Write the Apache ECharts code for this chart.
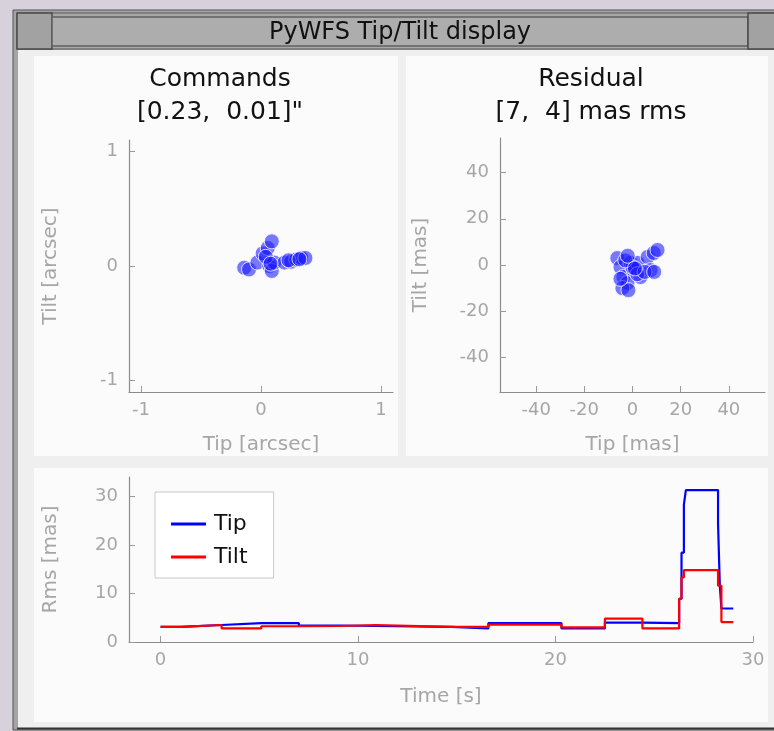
<!DOCTYPE html>
<html>
<head>
<meta charset="utf-8">
<script src="https://cdn.jsdelivr.net/npm/echarts@6/dist/echarts.min.js"></script>
<style>
html,body{margin:0;padding:0;background:#d6d1da;}
#chart{width:774px;height:731px;}
</style>
</head>
<body>
<div id="chart"></div>
<script>
// ---- Data ----
var windowTitle = 'PyWFS Tip/Tilt display';
var cmdTitle = 'Commands\n[0.23,  0.01]"';
var resTitle = 'Residual\n[7,  4] mas rms';

// Commands scatter (arcsec)
var cmdTip  = [-0.14, -0.10, -0.03, 0.014, 0.056, 0.09, 0.07, 0.09, 0.11, 0.196, 0.25, 0.294, 0.336, 0.37, 0.04, 0.08, 0.23, 0.32];
var cmdTilt = [-0.015, -0.03, 0.03, 0.11, 0.157, 0.215, 0.0, -0.043, 0.03, 0.03, 0.037, 0.057, 0.07, 0.07, 0.08, 0.02, 0.05, 0.06];

// Residual scatter (mas)
var resTip  = [-6.3, -5.0, -3.8, -2.1, -0.8, 0.4, 2.1, 3.3, 6.3, 8.8, 10.4, 7.5, -4.2, -1.7, 0.0, -3.0, 2.0, -5.0, 5.0, -2.0, 9.0, 1.0];
var resTilt = [3.0, -0.9, -5.2, -7.8, 0.9, -2.2, 0.9, -5.2, 3.5, 5.2, 6.5, -2.2, -10.0, -10.9, -1.0, 2.0, -4.0, -6.0, -3.0, 4.0, -3.0, -1.5];

// Rms time series (value holds from each time until the next)
var timeS   = [0, 1.03, 3.09, 5.1, 7.0, 9.1, 10.9, 14.7, 16.6, 20.3, 22.5, 24.4, 26.26, 26.38, 26.5, 26.6, 28.23, 28.32, 28.4, 29.0];
var tipRms  = [3.1, 3.5, 3.9, 3.9, 3.4, 3.3, 3.1, 2.8, 3.9, 2.8, 4.0, 3.9, 8.9, 18.4, 28.3, 31.3, 24.5, 11.6, 6.9, 6.9];
var tiltRms = [3.1, 3.5, 2.8, 3.25, 3.3, 3.5, 3.1, 3.1, 3.6, 3.0, 4.8, 2.8, 8.9, 13.3, 14.8, 14.8, 11.6, 11.6, 4.1, 4.1];

var cmdTicks = [-1, 0, 1];
var resTicks = [-40, -20, 0, 20, 40];
var timeTicks = [0, 10, 20, 30];
var rmsTicks = [0, 10, 20, 30];

// ---- Build ----
function pairs(a, b) { return a.map(function (v, i) { return [v, b[i]]; }); }
function stepPairs(t, v) {
  var out = [];
  for (var i = 0; i < t.length; i++) {
    if (i > 0) out.push([t[i], v[i - 1]]);
    out.push([t[i], v[i]]);
  }
  return out;
}

var FONT = 'DejaVu Sans';
var labelColor = '#a6a6a6';
var axisLineColor = '#8c8c8c';

function valAxis(gridIndex, min, max, ticks, name, gap, isY) {
  return {
    type: 'value', gridIndex: gridIndex, min: min, max: max,
    name: name, nameLocation: 'middle', nameGap: gap,
    nameTextStyle: { color: labelColor, fontSize: 20, fontFamily: FONT },
    axisLine: { show: true, onZero: false, lineStyle: { color: axisLineColor, width: 1.2 } },
    axisTick: { show: true, inside: true, length: 6, customValues: ticks, lineStyle: { color: '#9a9a9a' } },
    axisLabel: { color: labelColor, fontSize: 18, fontFamily: FONT, margin: isY ? 11 : 9, customValues: ticks },
    splitLine: { show: false }
  };
}

var scatterStyle = { color: 'rgba(25,25,255,0.72)', borderColor: '#ffffff', borderWidth: 1 };

var option = {
  animation: false,
  backgroundColor: '#d6d1da',
  graphic: [
    { type: 'rect', z: -10, shape: { x: 13, y: 10, width: 770, height: 720 }, style: { fill: '#a4a4a4', stroke: '#555', lineWidth: 1 } },
    { type: 'rect', z: -9, shape: { x: 17, y: 13, width: 760, height: 36 }, style: { fill: '#a8a8a8', stroke: '#5a5a5a', lineWidth: 1 } },
    { type: 'rect', z: -9, shape: { x: 17, y: 13, width: 35, height: 36 }, style: { fill: '#a2a2a2', stroke: '#4a4a4a', lineWidth: 1.5 } },
    { type: 'rect', z: -9, shape: { x: 52, y: 17, width: 696, height: 29 }, style: { fill: '#adadad', stroke: '#606060', lineWidth: 1.5 } },
    { type: 'rect', z: -9, shape: { x: 748, y: 13, width: 30, height: 36 }, style: { fill: '#a2a2a2', stroke: '#4a4a4a', lineWidth: 1.5 } },
    { type: 'text', z: 10, style: { x: 400, y: 33, text: windowTitle, fill: '#111111', font: '24px "DejaVu Sans"', align: 'center', verticalAlign: 'middle' } },
    { type: 'rect', z: -9, shape: { x: 18, y: 50, width: 760, height: 678 }, style: { fill: '#efefef' } },
    { type: 'line', z: -9, shape: { x1: 17, y1: 728.5, x2: 774, y2: 728.5 }, style: { stroke: '#333', lineWidth: 2 } },
    { type: 'rect', z: -8, shape: { x: 34, y: 56, width: 364, height: 400 }, style: { fill: '#fbfbfb' } },
    { type: 'rect', z: -8, shape: { x: 406, y: 56, width: 362, height: 400 }, style: { fill: '#fbfbfb' } },
    { type: 'rect', z: -8, shape: { x: 34, y: 468, width: 734, height: 254 }, style: { fill: '#fbfbfb' } }
  ],
  title: [
    { text: cmdTitle, left: 215, top: 58, textAlign: 'center',
      textStyle: { color: '#111', fontSize: 25, fontWeight: 'normal', fontFamily: FONT, lineHeight: 33 } },
    { text: resTitle, left: 586, top: 58, textAlign: 'center',
      textStyle: { color: '#111', fontSize: 25, fontWeight: 'normal', fontFamily: FONT, lineHeight: 33 } }
  ],
  legend: {
    data: ['Tip', 'Tilt'], orient: 'vertical', left: 155, top: 492,
    backgroundColor: '#ffffff', borderColor: '#c8c8c8', borderWidth: 1,
    padding: [21, 26, 10, 16], itemGap: 11, itemWidth: 35, itemHeight: 3, icon: 'rect',
    textStyle: { color: '#111', fontSize: 22, fontFamily: FONT, padding: [0, 0, 0, 3] }
  },
  grid: [
    { left: 129, top: 140, width: 264, height: 252 },
    { left: 500, top: 138, width: 265, height: 254 },
    { left: 129, top: 477, width: 624, height: 165 }
  ],
  xAxis: [
    valAxis(0, -1.1, 1.1, cmdTicks, 'Tip [arcsec]', 43, false),
    valAxis(1, -55, 55, resTicks, 'Tip [mas]', 43, false),
    valAxis(2, -1.6, 30, timeTicks, 'Time [s]', 45, false)
  ],
  yAxis: [
    valAxis(0, -1.1, 1.1, cmdTicks, 'Tilt [arcsec]', 68, true),
    valAxis(1, -55, 55, resTicks, 'Tilt [mas]', 69, true),
    valAxis(2, 0, 34, rmsTicks, 'Rms [mas]', 68, true)
  ],
  series: [
    { type: 'scatter', xAxisIndex: 0, yAxisIndex: 0, symbolSize: 15, itemStyle: scatterStyle, data: pairs(cmdTip, cmdTilt) },
    { type: 'scatter', xAxisIndex: 1, yAxisIndex: 1, symbolSize: 15, itemStyle: scatterStyle, data: pairs(resTip, resTilt) },
    { name: 'Tip', type: 'line', xAxisIndex: 2, yAxisIndex: 2, showSymbol: false, symbol: 'none',
      lineStyle: { color: '#0000ff', width: 2.2 }, itemStyle: { color: '#0000ff' }, data: stepPairs(timeS, tipRms) },
    { name: 'Tilt', type: 'line', xAxisIndex: 2, yAxisIndex: 2, showSymbol: false, symbol: 'none',
      lineStyle: { color: '#ff0000', width: 2.2 }, itemStyle: { color: '#ff0000' }, data: stepPairs(timeS, tiltRms) }
  ]
};

var chart = echarts.init(document.getElementById('chart'), null, { renderer: 'canvas' });
chart.setOption(option);
</script>
</body>
</html>
